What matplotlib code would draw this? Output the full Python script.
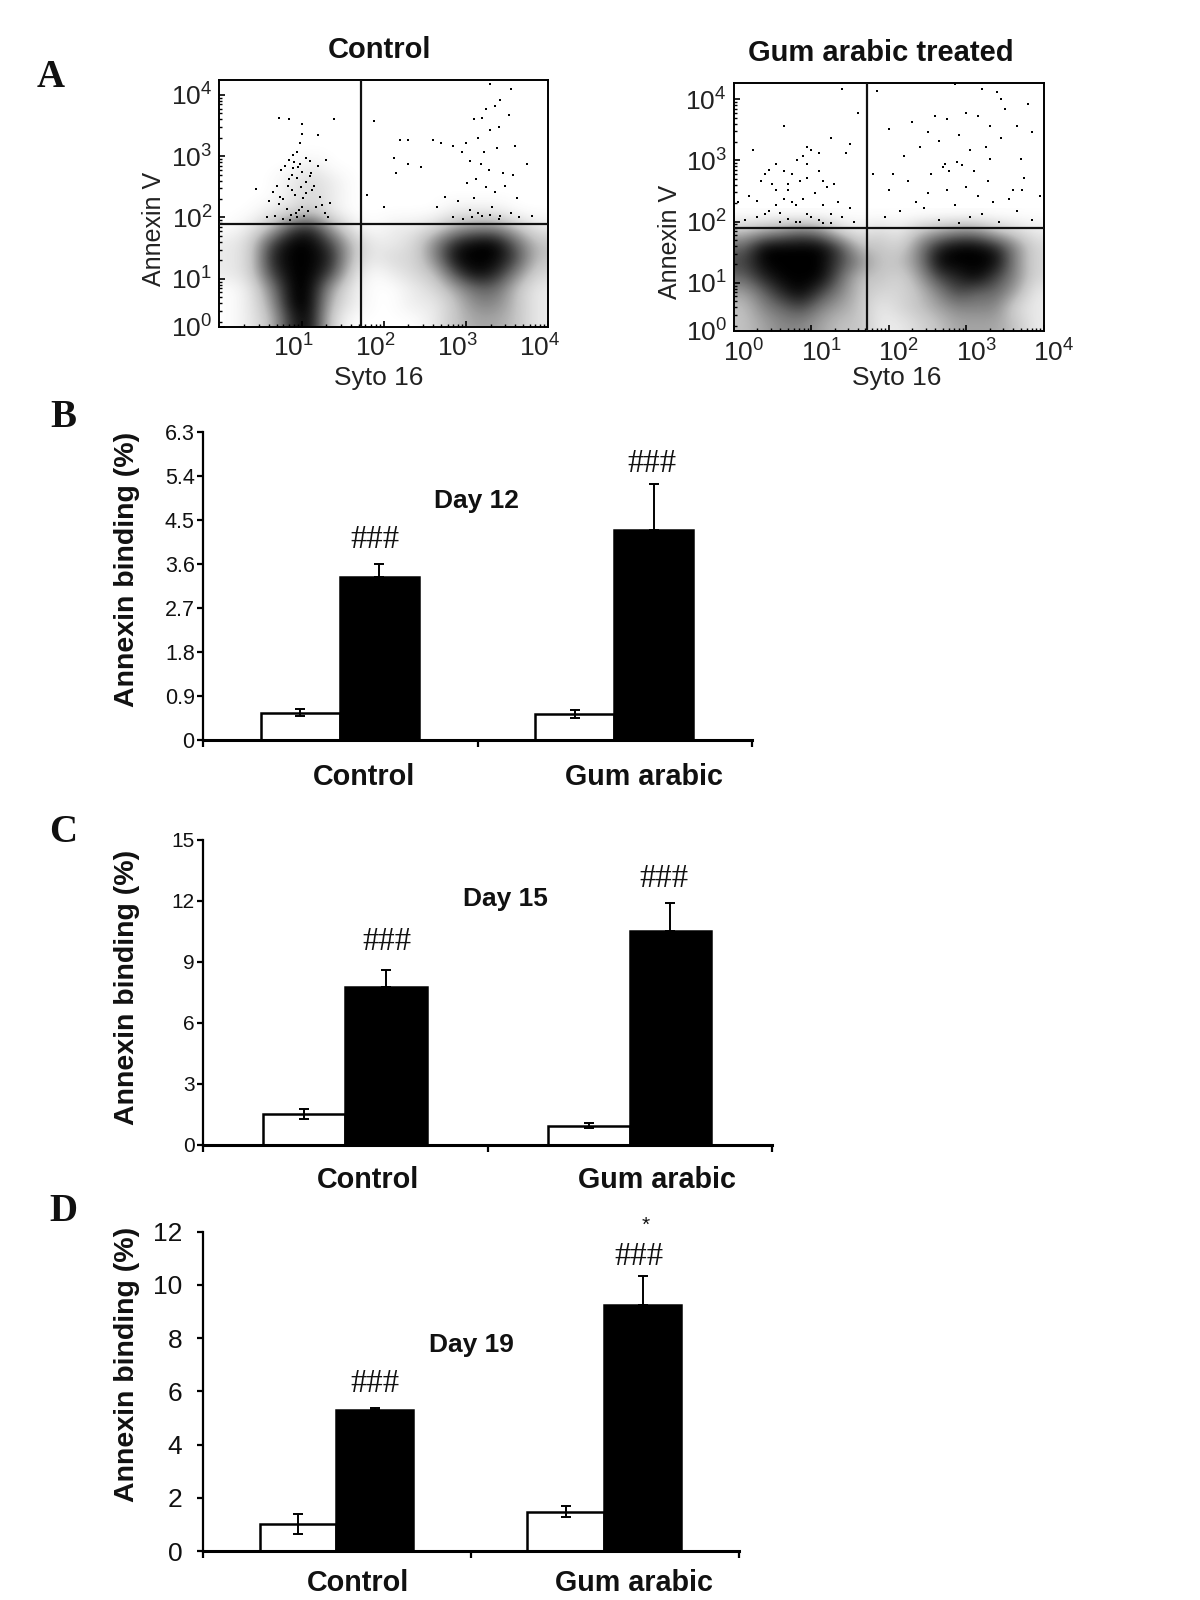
import numpy as np
import matplotlib
matplotlib.use("Agg")
import matplotlib.pyplot as plt
from matplotlib.colors import LinearSegmentedColormap
from matplotlib.transforms import ScaledTranslation

plt.rcParams['font.family'] = ['Liberation Sans', 'DejaVu Sans']
plt.rcParams['mathtext.default'] = 'regular'
plt.rcParams['mathtext.fontset'] = 'custom'
plt.rcParams['mathtext.rm'] = 'Liberation Sans'

W, H = 1200, 1600
K = 1200 / 1176

# ---------- Flow cytometry: density read by eye, one digit per 0.25-decade cell (bottom row first)
control_density = [
    "0138920000134431",
    "0149931001135531",
    "0159941001246631",
    "1279972012379852",
    "1289983122599973",
    "1279973112589963",
    "0137841011245531",
    "0012310000011100",
    "0001210000000000",
    "0001210000000000",
    "0000100000000000",
    "0000000000000000",
]
gum_density = [
    "3455433112344431",
    "3567543123455521",
    "4689753223576641",
    "6899963324789752",
    "7999975335999952",
    "6999973325899852",
    "3456521213455321",
    "0000000000000000",
]
control_ul_x = [.72,.85,1.40,1.00,1.01,1.20,.95,.90,.85,1.05,1.10,.98,.80,.75,.90,1.00,1.12,1.20,1.30,.70,.65,.60,
                .45,.85,.95,1.05,1.15,.88,.92,1.02,.78,.72,1.35,1.25,.82,.97,1.08,.93,.87,1.03,1.18,1.28,.68,.77,
                1.06,.99,.89,.83,.96,.91,1.13,1.22,.94,.86,1.01,.74,.58,1.32,1.10,.98]
control_ul_y = [3.40,3.38,3.38,3.30,3.15,3.12,2.85,2.80,2.72,2.75,2.70,2.65,2.62,2.55,2.58,2.52,2.50,2.62,2.72,2.30,
                2.20,2.05,2.25,2.40,2.42,2.36,2.30,2.22,2.15,2.10,2.08,2.00,2.02,1.98,1.92,1.90,1.88,1.85,1.82,1.80,
                1.95,1.85,1.80,1.76,2.18,2.28,2.48,2.30,2.60,2.68,2.22,2.12,1.78,1.74,1.95,2.12,1.78,1.78,2.45,3.00]
control_ur_x = [3.30,3.55,3.42,3.35,3.25,3.52,3.20,3.10,3.40,3.30,3.15,3.00,2.85,2.95,3.22,3.38,3.60,3.75,2.70,2.60,
                3.05,3.18,3.28,3.45,3.58,2.45,2.30,1.88,2.20,2.12,2.30,2.15,3.02,3.12,3.25,3.35,3.48,3.62,3.10,2.90,
                2.75,2.65,3.05,3.15,3.32,3.42,3.55,1.80,2.00,2.85,2.96,3.08,3.20,3.30,3.40,3.65,3.80]
control_ur_y = [3.95,3.88,3.70,3.60,3.55,3.45,3.40,3.38,3.25,3.20,3.08,3.00,2.95,2.85,2.85,2.92,2.95,2.65,3.00,3.05,
                2.70,2.65,2.55,2.50,2.48,2.60,3.05,3.35,3.05,2.75,2.65,2.50,2.35,2.40,2.28,2.20,2.30,2.10,2.10,2.05,
                2.12,1.95,1.90,1.85,1.95,1.80,1.85,2.15,1.95,1.78,1.75,1.78,1.80,1.82,1.75,1.78,1.80]
gum_ul_x = [1.40,1.60,.65,.25,.95,1.25,.55,.45,.65,.90,1.00,1.10,.40,.75,.85,.95,1.10,1.15,1.20,.20,.30,.55,.70,.80,
            1.05,1.15,.45,.55,.75,.90,1.00,1.25,1.35,1.50,.15,.30,.40,.60,.70,.85,.95,1.10,1.25,1.40,1.55,1.30,.05,
            .35,.50,.65,.80,1.45,.95,.70,1.15,.82,.60,1.50]
gum_ul_y = [3.95,3.55,3.35,2.95,3.00,3.15,2.72,2.62,2.60,2.85,2.95,2.90,2.55,2.55,2.45,2.50,2.60,2.45,2.35,2.20,2.12,
            2.30,2.40,2.05,2.25,2.05,1.95,2.05,2.10,2.15,1.85,1.90,2.10,2.00,1.80,1.85,1.90,1.78,1.82,1.78,1.90,1.80,
            1.76,1.85,1.78,2.40,2.10,2.45,2.40,2.15,1.78,2.90,2.72,2.30,1.75,2.78,1.92,3.05]
gum_ur_x = [1.85,2.85,3.20,3.40,3.45,3.80,2.60,2.30,2.00,2.50,2.75,3.00,3.15,3.30,3.50,3.65,3.85,2.20,2.40,2.65,2.90,
            3.05,3.25,3.45,3.70,2.05,2.25,2.55,2.70,2.95,3.10,3.28,3.60,3.75,3.95,1.80,2.00,2.35,2.50,2.75,3.00,3.15,
            3.35,3.55,3.72,1.95,2.15,2.45,2.65,2.85,3.05,3.20,3.42,3.65,3.85,2.72,2.88,2.78,3.30,2.90]
gum_ur_y = [3.92,4.02,3.95,3.90,3.78,3.70,3.50,3.40,3.30,3.25,3.45,3.55,3.50,3.35,3.62,3.35,3.25,2.85,3.00,3.10,3.20,
            2.95,3.00,3.15,2.80,2.55,2.45,2.55,2.68,2.70,2.60,2.45,2.30,2.50,2.20,2.55,2.30,2.10,2.25,2.30,2.35,2.20,
            2.10,2.15,2.30,1.85,1.95,2.00,1.80,2.05,1.85,1.90,1.78,1.95,1.80,2.72,2.75,2.60,2.80,1.76]

hist_ticks = [0, 1, 2, 3, 4]
hist_labels = ['$10^{0}$', '$10^{1}$', '$10^{2}$', '$10^{3}$', '$10^{4}$']

# ---------- Bars
groups = ['Control', 'Gum arabic']
b_white, b_white_err = [0.55, 0.53], [0.07, 0.08]
b_black, b_black_err = [3.33, 4.28], [0.27, 0.94]
c_white, c_white_err = [1.50, 0.95], [0.25, 0.13]
c_black, c_black_err = [7.75, 10.50], [0.85, 1.40]
d_white, d_white_err = [1.02, 1.48], [0.37, 0.22]
d_black, d_black_err = [5.30, 9.25], [0.08, 1.10]
b_ticks = [0, 0.9, 1.8, 2.7, 3.6, 4.5, 5.4, 6.3]
b_ticklabels = ['0', '0.9', '1.8', '2.7', '3.6', '4.5', '5.4', '6.3']
c_ticks = [0, 3, 6, 9, 12, 15]
d_ticks = [0, 2, 4, 6, 8, 10, 12]

fig = plt.figure(figsize=(W / 100, H / 100), dpi=100, facecolor='white')
cmap = LinearSegmentedColormap.from_list('d', ['#ffffff', '#c4c4c4', '#686868', '#000000'])


def axes_px(l, t, r, b):
    l, t, r, b = l * K, t * K, r * K, b * K
    return fig.add_axes([l / W, 1 - b / H, (r - l) / W, (b - t) / H])


def ftext(x, y, s, **kw):
    fig.text(x * K / W, 1 - y * K / H, s, ha=kw.pop('ha', 'center'), va=kw.pop('va', 'center'), **kw)


def flow(box, density, xs, ys, xgate, ygate, ytop, first_x, label_dx):
    # The y axis bottom sits 0.22 decade above 10^0 in the original plot; its 10^0 label marks that edge.
    ybase = 0.22
    ax = axes_px(*box)
    arr = np.array([[int(c) for c in row] for row in density], float) / 9
    ax.imshow(arr, origin='lower', extent=[0, 4, ybase, ybase + 0.25 * len(density)], cmap=cmap, vmin=0, vmax=1,
              interpolation='bicubic', aspect='auto', zorder=1)
    ax.scatter(xs, np.array(ys) + ybase, s=1.3, c='black', marker='s', linewidths=0, zorder=2)
    ax.axvline(xgate, color='#111111', lw=1.6, zorder=3)
    ax.axhline(ygate + ybase, color='#111111', lw=1.6, zorder=3)
    ax.set_xlim(0, 4)
    ax.set_ylim(ybase, ytop + ybase)
    ax.set_xticks(hist_ticks[first_x:])
    ax.set_xticklabels(hist_labels[first_x:], fontsize=19, color='#222222')
    ax.set_yticks([ybase] + hist_ticks[1:])
    ax.set_yticklabels(hist_labels, fontsize=19, color='#222222')
    minor = [d + np.log10(m) for d in range(4) for m in range(2, 10)]
    ax.set_xticks(minor, minor=True)
    ax.set_yticks([m for m in minor if m > ybase], minor=True)
    ax.tick_params(axis='both', which='major', direction='in', length=4, width=1.2)
    ax.tick_params(axis='x', which='major', pad=6)
    ax.tick_params(axis='y', which='major', pad=5)
    ax.tick_params(axis='both', which='minor', direction='in', length=2, width=1)
    shift = ScaledTranslation(label_dx / 100, 0, fig.dpi_scale_trans)
    for lab in ax.get_xticklabels():
        lab.set_transform(lab.get_transform() + shift)
    for s in ax.spines.values():
        s.set_linewidth(1.4)
    return ax


flow((215, 78, 537, 320), control_density, control_ul_x + control_ur_x, control_ul_y + control_ur_y, 1.72, 1.68, 4.03, 1, -8)
flow((719, 81, 1023, 324), gum_density, gum_ul_x + gum_ur_x, gum_ul_y + gum_ur_y, 1.72, 1.68, 4.05, 0, 10)

ftext(372, 49, 'Control', fontsize=21, fontweight='bold', color='#111111')
ftext(863, 52, 'Gum arabic treated', fontsize=21, fontweight='bold', color='#111111')
ftext(151, 224, 'Annexin V', fontsize=18, rotation=90, color='#222222')
ftext(657, 237, 'Annexin V', fontsize=18, rotation=90, color='#222222')
ftext(371, 370, 'Syto 16', fontsize=19, color='#222222')
ftext(879, 370, 'Syto 16', fontsize=19, color='#222222')


def bars(box, white, werr, black, berr, ticks, ticklabels, ymax, day, dayxy, hash_pos, letter, letter_y,
         lab_y, lab_x, tick_fs, ylab_y, tick_pad):
    ax = axes_px(*box)
    x = np.arange(len(groups)) + 0.5
    w = 0.287
    ax.bar(x - w / 2 - 0.002, white, w, color='white', edgecolor='black', lw=1.8, zorder=2)
    ax.bar(x + w / 2 - 0.002, black, w, color='black', edgecolor='black', lw=1.8, zorder=2)
    ax.errorbar(x - w / 2 - 0.002, white, yerr=werr, fmt='none', ecolor='black', elinewidth=1.4, capsize=3.5,
                capthick=1.4, zorder=3)
    ax.errorbar(x + w / 2 - 0.002, black, yerr=[[0, 0], berr], fmt='none', ecolor='black', elinewidth=1.4,
                capsize=3.5, capthick=1.4, zorder=3)
    ax.set_xlim(0, 2)
    ax.set_ylim(0, ymax)
    ax.set_xticks([0, 1, 2])
    ax.set_xticklabels([])
    ax.set_yticks(ticks)
    ax.set_yticklabels(ticklabels, fontsize=tick_fs, color='#111111')
    ax.tick_params(axis='y', length=4, width=1.6, pad=tick_pad)
    ax.tick_params(axis='x', length=5, width=1.6, direction='out')
    for s in ('top', 'right'):
        ax.spines[s].set_visible(False)
    ax.spines['left'].set_linewidth(1.6)
    ax.spines['bottom'].set_linewidth(2.2)
    for (hx, hy) in hash_pos:
        ftext(hx, hy + 3, '###', fontsize=23.5, family='Liberation Serif', color='#111111')
    ftext(dayxy[0], dayxy[1] + 4, day, fontsize=19, fontweight='bold', color='#111111')
    ftext(62, letter_y + 3, letter, fontsize=28, fontweight='bold', family='Liberation Serif', color='#111111')
    ftext(124, ylab_y, 'Annexin binding (%)', fontsize=20.5, fontweight='bold', rotation=90, color='#111111')
    for lx, g in zip(lab_x, groups):
        ftext(lx, lab_y + 2, g, fontsize=20.7, fontweight='bold', color='#111111')
    return ax


bars((199, 423, 737, 725), b_white, b_white_err, b_black, b_black_err, b_ticks, b_ticklabels, 6.3, 'Day 12', (467, 487),
     [(367, 526), (639, 451)], 'B', 406, 759, (357, 631), 15.5, 558, 2)
bars((199, 823, 757, 1122), c_white, c_white_err, c_black, c_black_err, c_ticks, [str(t) for t in c_ticks], 15, 'Day 15',
     (495, 877), [(379, 920), (651, 858)], 'C', 813, 1154, (361, 644), 15, 968, 2)
bars((199, 1207, 724, 1520), d_white, d_white_err, d_black, d_black_err, d_ticks, [str(t) for t in d_ticks], 12,
     'Day 19', (462, 1314), [(367, 1353), (626, 1229)], 'D', 1184, 1549, (351, 621), 19, 1337, 11)
ftext(633, 1201, '*', fontsize=15, color='#111111')
ftext(50, 76, 'A', fontsize=28, fontweight='bold', family='Liberation Serif', color='#111111')

fig.savefig('out.png', dpi=100, facecolor='white')
